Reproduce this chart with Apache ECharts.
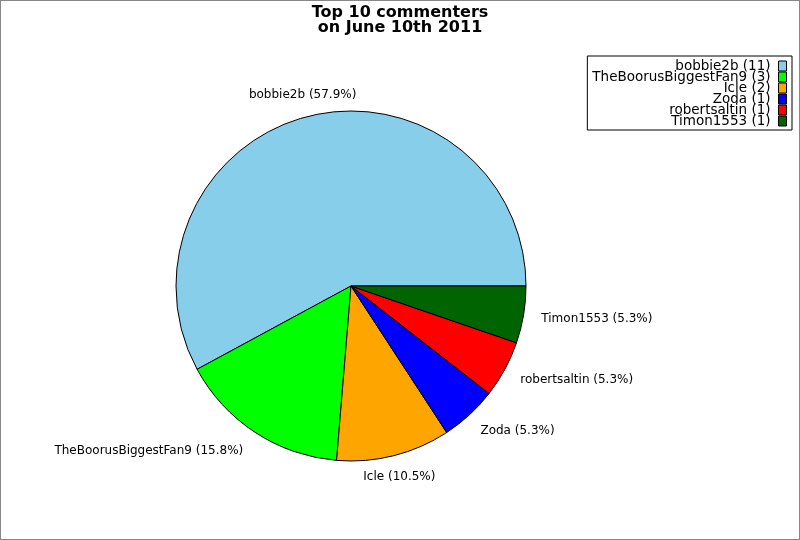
<!DOCTYPE html>
<html>
<head>
<meta charset="utf-8">
<script src="https://cdn.jsdelivr.net/npm/echarts@6/dist/echarts.min.js"></script>
<style>
	html, body { margin: 0; padding: 0; background: #fff; }
	#chart { width: 800px; height: 540px; box-sizing: border-box; border: 1px solid #888; }
</style>
</head>
<body>
<div id="chart"></div>
<script>
// data
var names = ['bobbie2b', 'TheBoorusBiggestFan9', 'Icle', 'Zoda', 'robertsaltin', 'Timon1553'];
var counts = [11, 3, 2, 1, 1, 1];
var colors = ['#87CEEB', '#00FF00', '#FFA500', '#0000FF', '#FF0000', '#006400'];

var total = counts.reduce(function(a, b){ return a + b; }, 0);
var labelFont = 'DejaVu Sans';

var myChart = echarts.init(document.getElementById('chart'));

var option = {
	animation: false,
	title: {
		text: 'Top 10 commenters\non June 10th 2011',
		left: 'center',
		top: 4,
		padding: 0,
		textStyle: {
			fontFamily: labelFont,
			fontWeight: 'bold',
			fontSize: 16,
			lineHeight: 15,
			color: '#000'
		}
	},
	legend: {
		orient: 'vertical',
		right: 7,
		top: 55,
		align: 'right',
		itemWidth: 8,
		itemHeight: 10,
		itemGap: -3,
		padding: [3, 5, 2, 5],
		borderColor: '#000',
		borderWidth: 1,
		icon: 'rect',
		itemStyle: { borderColor: '#000', borderWidth: 1 },
		textStyle: { fontFamily: labelFont, fontSize: 13.5, color: '#000', padding: [0, 3, 0, 0] },
		formatter: function(name){
			return name + ' (' + counts[names.indexOf(name)] + ')';
		},
		data: names
	},
	series: [{
		type: 'pie',
		center: [350, 285],
		radius: 175,
		startAngle: 0,
		clockwise: false,
		avoidLabelOverlap: false,
		itemStyle: { borderColor: '#000', borderWidth: 1 },
		emphasis: { disabled: true },
		label: {
			position: 'outside',
			fontFamily: labelFont,
			fontSize: 12,
			color: '#000',
			distanceToLabelLine: 0,
			formatter: function(p){
				return p.name + ' (' + (p.value / total * 100).toFixed(1) + '%)';
			}
		},
		labelLine: { show: false, length: 22, length2: 0 },
		labelLayout: function(params){
			// near-vertical slices get centred labels
			if (params.dataIndex === 0 || params.dataIndex === 2) {
				return { align: 'center' };
			}
			if (params.dataIndex >= 3) {
				return { dx: -4 };
			}
			return {};
		},
		data: names.map(function(n, i){
			return { name: n, value: counts[i], itemStyle: { color: colors[i] } };
		})
	}]
};

myChart.setOption(option);
</script>
</body>
</html>
